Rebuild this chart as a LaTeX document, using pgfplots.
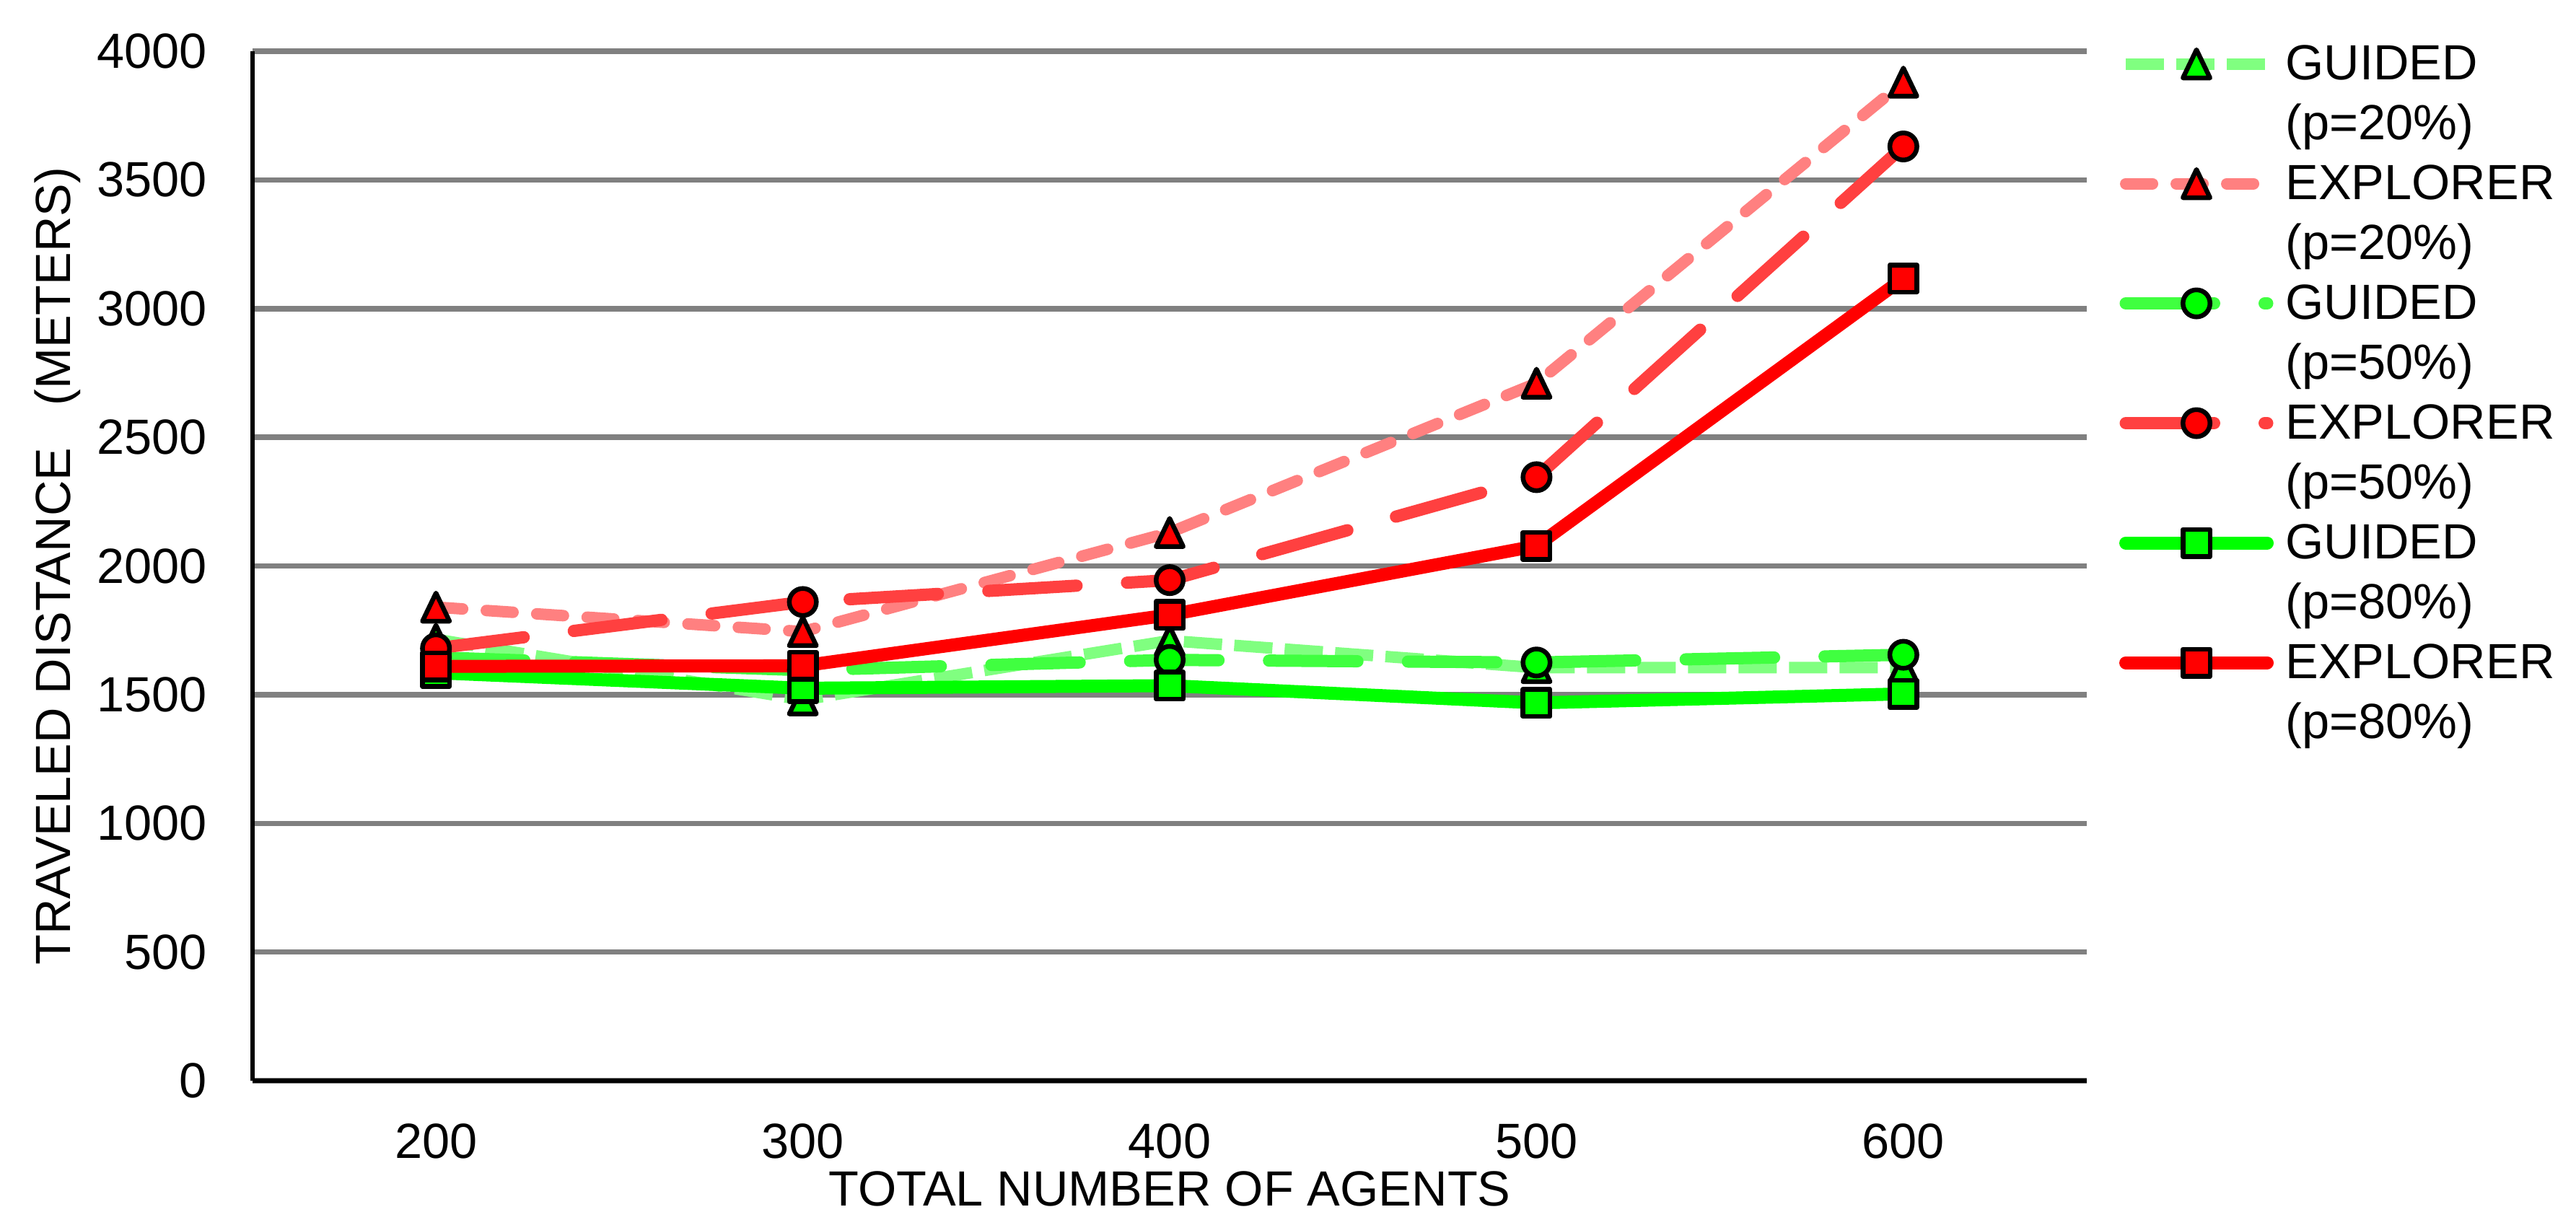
\documentclass[border=0pt]{standalone}
\usepackage{fontspec}
\setmainfont{Liberation Sans}
\usepackage{pgfplots}
\pgfplotsset{compat=1.18}
\definecolor{gl}{HTML}{80FF80}
\definecolor{rl}{HTML}{FF8080}
\definecolor{gm}{HTML}{40FF40}
\definecolor{rm}{HTML}{FF4040}
\definecolor{gs}{HTML}{00FF00}
\definecolor{rs}{HTML}{FF0000}
\definecolor{gridgray}{HTML}{808080}
\tikzset{mk/.style={solid, draw=black, line width=1.3pt, line join=round, fill=#1}}
\begin{document}
\begin{tikzpicture}
\path[use as bounding box] (-70pt,-40pt) rectangle (644pt,299.6pt);
\begin{axis}[
  at={(0,0)}, anchor=south west,
  scale only axis, width=508.4pt, height=285.4pt,
  xmin=-0.5, xmax=4.5, ymin=0, ymax=4000,
  clip=false,
  xtick={0,1,2,3,4}, xticklabels={200,300,400,500,600},
  ytick={0,500,...,4000},
  axis x line*=bottom, axis y line*=left,
  axis line style={black, line width=1.2pt},
  major tick length=0pt,
  ymajorgrids, grid style={gridgray, line width=1.5pt},
  /pgf/number format/assume math mode=true,
  ticklabel style={font=\fontsize{13.7}{16}\selectfont, inner sep=0pt},
  yticklabel style={/pgf/number format/fixed, /pgf/number format/1000 sep={}, anchor=east, xshift=-12.4pt},
  xticklabel style={anchor=north, yshift=-11.8pt},
  xlabel={TOTAL NUMBER OF AGENTS},
  xlabel style={at={(axis description cs:0.5,0)}, anchor=north, yshift=-25pt, inner sep=0pt, font=\fontsize{13.7}{16}\selectfont},
  ylabel={TRAVELED DISTANCE\hspace{0.85em}(METERS)},
  ylabel style={at={(axis description cs:0,0.5)}, anchor=center, yshift=54pt, inner sep=0pt, font=\fontsize{13.7}{16}\selectfont},
  legend style={at={(axis description cs:1,1)}, anchor=north west, xshift=8.8pt, yshift=4pt,
    draw=none, fill=none, inner sep=0pt, row sep=0pt, column sep=3.3pt,
    font=\fontsize{13.7}{16.6}\selectfont,
    nodes={inner sep=0pt, text height=11.6pt, text depth=5pt}},
  legend cell align=left,
  legend image code/.code={\draw[mark repeat=2, mark phase=2, #1] plot coordinates {(0pt,1pt) (19.6pt,1pt) (39.2pt,1pt)};},
]
\addplot[gl, line width=3.2pt, line cap=butt, dash pattern=on 10.6pt off 3.4pt,
  mark=triangle*, mark size=4.33pt, mark options={mk=gs, yshift=-1.3pt, yscale=1.2}]
  coordinates {(0,1715) (1,1480) (2,1710) (3,1605) (4,1605)};
\addlegendentry{GUIDED}
\addlegendimage{empty legend}\addlegendentry{(p=20\%)}
\addplot[rl, line width=3.2pt, line cap=round, dash pattern=on 7.4pt off 6.6pt,
  mark=triangle*, mark size=4.33pt, mark options={mk=rs, yshift=-1.3pt, yscale=1.2}]
  coordinates {(0,1840) (1,1745) (2,2130) (3,2710) (4,3880)};
\addlegendentry{EXPLORER}
\addlegendimage{empty legend}\addlegendentry{(p=20\%)}
\addplot[gm, line width=3.4pt, line cap=round, dash pattern=on 24.5pt off 14pt,
  mark=*, mark size=3.75pt, mark options={mk=gs}]
  coordinates {(0,1645) (1,1595) (2,1635) (3,1625) (4,1655)};
\addlegendentry{GUIDED}
\addlegendimage{empty legend}\addlegendentry{(p=50\%)}
\addplot[rm, line width=3.4pt, line cap=round, dash pattern=on 24.5pt off 14pt,
  mark=*, mark size=3.75pt, mark options={mk=rs}]
  coordinates {(0,1680) (1,1860) (2,1945) (3,2345) (4,3630)};
\addlegendentry{EXPLORER}
\addlegendimage{empty legend}\addlegendentry{(p=50\%)}
\addplot[gs, line width=3.6pt, line cap=round,
  mark=square*, mark size=3.75pt, mark options={mk=gs}]
  coordinates {(0,1585) (1,1525) (2,1535) (3,1468) (4,1503)};
\addlegendentry{GUIDED}
\addlegendimage{empty legend}\addlegendentry{(p=80\%)}
\addplot[rs, line width=3.6pt, line cap=round,
  mark=square*, mark size=3.75pt, mark options={mk=rs}]
  coordinates {(0,1610) (1,1612) (2,1810) (3,2078) (4,3117)};
\addlegendentry{EXPLORER}
\addlegendimage{empty legend}\addlegendentry{(p=80\%)}
\end{axis}
\end{tikzpicture}
\end{document}
